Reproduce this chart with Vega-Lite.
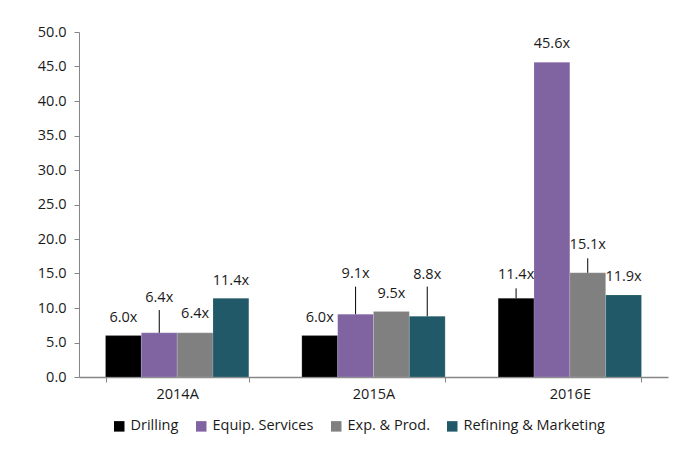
{
  "$schema": "https://vega.github.io/schema/vega-lite/v6.json",
  "width": 589,
  "height": 345,
  "autosize": {"type": "none"},
  "padding": {"left": 79, "top": 32, "right": 15, "bottom": 76},
  "background": "white",
  "config": {
    "view": {"stroke": null},
    "font": "Open Sans",
    "axis": {"labelFont": "Open Sans", "labelFontSize": 14.5, "labelColor": "#1a1a1a", "domainColor": "#868686", "tickColor": "#868686", "grid": false, "title": null, "labelOverlap": false},
    "legend": {"labelFont": "Open Sans", "labelFontSize": 14.5, "labelColor": "#1a1a1a"}
  },
  "data": {
    "values": [
      {"year": "2014A", "series": "Drilling", "value": 6.0, "label": "6.0x", "labelAt": 8.55, "lineTop": null},
      {"year": "2014A", "series": "Equip. Services", "value": 6.4, "label": "6.4x", "labelAt": 11.45, "lineTop": 9.7},
      {"year": "2014A", "series": "Exp. & Prod.", "value": 6.4, "label": "6.4x", "labelAt": 9.1, "lineTop": null},
      {"year": "2014A", "series": "Refining & Marketing", "value": 11.4, "label": "11.4x", "labelAt": 13.9, "lineTop": null},
      {"year": "2015A", "series": "Drilling", "value": 6.0, "label": "6.0x", "labelAt": 8.55, "lineTop": null},
      {"year": "2015A", "series": "Equip. Services", "value": 9.1, "label": "9.1x", "labelAt": 14.9, "lineTop": 13.1},
      {"year": "2015A", "series": "Exp. & Prod.", "value": 9.5, "label": "9.5x", "labelAt": 12.1, "lineTop": null},
      {"year": "2015A", "series": "Refining & Marketing", "value": 8.8, "label": "8.8x", "labelAt": 14.8, "lineTop": 13.1},
      {"year": "2016E", "series": "Drilling", "value": 11.4, "label": "11.4x", "labelAt": 14.8, "lineTop": 12.85},
      {"year": "2016E", "series": "Equip. Services", "value": 45.6, "label": "45.6x", "labelAt": 48.3, "lineTop": null},
      {"year": "2016E", "series": "Exp. & Prod.", "value": 15.1, "label": "15.1x", "labelAt": 19.1, "lineTop": 17.2},
      {"year": "2016E", "series": "Refining & Marketing", "value": 11.9, "label": "11.9x", "labelAt": 14.5, "lineTop": null}
    ]
  },
  "encoding": {
    "x": {
      "field": "year", "type": "nominal",
      "scale": {"paddingInner": 0.27, "paddingOuter": 0.135},
      "axis": {"labelAngle": 0, "tickBand": "extent", "tickSize": 5, "labelPadding": 5, "domainWidth": 1.5}
    },
    "xOffset": {
      "field": "series", "type": "nominal",
      "scale": {"domain": ["Drilling", "Equip. Services", "Exp. & Prod.", "Refining & Marketing"], "paddingInner": 0, "paddingOuter": 0}
    }
  },
  "layer": [
    {
      "mark": {"type": "bar", "stroke": "#ffffff", "strokeOpacity": 0.3, "strokeWidth": 0.5},
      "encoding": {
        "y": {
          "field": "value", "type": "quantitative",
          "scale": {"domain": [0, 50], "nice": false},
          "axis": {"values": [0, 5, 10, 15, 20, 25, 30, 35, 40, 45, 50], "format": ".1f", "tickSize": 5, "labelPadding": 8, "labelOverlap": false, "labelBound": false, "labelFlush": false}
        },
        "color": {
          "field": "series", "type": "nominal",
          "scale": {"domain": ["Drilling", "Equip. Services", "Exp. & Prod.", "Refining & Marketing"], "range": ["#000000", "#8064A2", "#808080", "#215968"]},
          "legend": {"title": null, "orient": "none", "legendX": 33, "legendY": 387, "direction": "horizontal", "symbolType": "square", "symbolSize": 110, "symbolStrokeWidth": 0, "symbolOpacity": 1, "columnPadding": 15, "labelOffset": 4}
        }
      }
    },
    {
      "transform": [{"filter": "datum.lineTop != null"}],
      "mark": {"type": "rule", "color": "#000000", "strokeWidth": 1},
      "encoding": {
        "y": {"field": "value", "type": "quantitative", "axis": {"values": [0, 5, 10, 15, 20, 25, 30, 35, 40, 45, 50], "format": ".1f", "tickSize": 5, "labelPadding": 8, "labelOverlap": false}},
        "y2": {"field": "lineTop"}
      }
    },
    {
      "mark": {"type": "text", "fontSize": 14.5, "color": "#1a1a1a", "baseline": "middle", "font": "Open Sans"},
      "encoding": {
        "y": {"field": "labelAt", "type": "quantitative", "axis": {"values": [0, 5, 10, 15, 20, 25, 30, 35, 40, 45, 50], "format": ".1f", "tickSize": 5, "labelPadding": 8, "labelOverlap": false}},
        "text": {"field": "label"}
      }
    }
  ]
}
